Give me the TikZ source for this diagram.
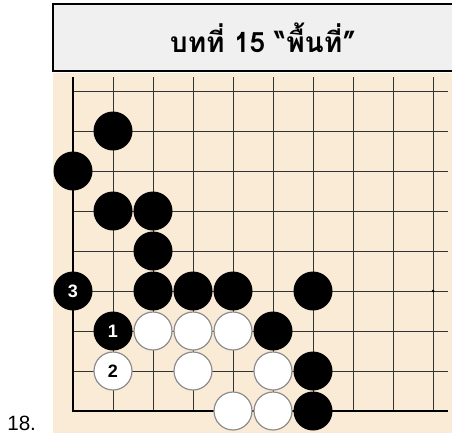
\documentclass[tikz,border=0pt]{standalone}
\usepackage{fontspec}
\setmainfont{Liberation Sans}
\newfontfamily\thaifont[Script=Thai]{Loma}
\definecolor{boardbg}{RGB}{250,235,215}
\definecolor{titlebg}{RGB}{240,240,240}

\begin{document}
\begin{tikzpicture}[
    x=0.75pt, y=-0.75pt,
    gridline/.style={line width=0.75pt, draw=black!80},
    edgeline/.style={line width=1.6pt, draw=black},
    bstone/.style={circle, fill=black, inner sep=0pt, minimum size=29.25pt, text=white, font=\bfseries\fontsize{13.5}{13.5}\selectfont},
    wstone/.style={circle, fill=white, draw=black!45, line width=0.9pt, inner sep=0pt, minimum size=28.5pt, text=black, font=\bfseries\fontsize{13.5}{13.5}\selectfont}
  ]
    \useasboundingbox (0,0) rectangle (452,439);
    % title bar
    \fill[titlebg] (53,4) rectangle (452,71);
    \draw[line width=1.5pt] (452,4) -| (53,71) -- (452,71);
    \node[font=\thaifont\bfseries\fontsize{21}{21}\selectfont] (title) at (263,38) {บทที่ 15 “พื้นที่”};
    % board
    \fill[boardbg] (53,73) rectangle (452,433);
    \foreach \c in {1,...,9}
      \draw[gridline] ({73+40*\c},77) -- ({73+40*\c},411);
    \foreach \r in {0,...,7}
      \draw[gridline] (73,{91+40*\r}) -- (448,{91+40*\r});
    \draw[edgeline] (73,77) -- (73,411) -- (448,411);
    \fill (433,291) circle (1.5);
    % stones
    \foreach \c/\r in {1/1, 0/2, 1/3, 2/3, 2/4, 2/5, 3/5, 4/5, 6/5, 5/6, 6/7, 6/8}
      \node[bstone] (b\c\r) at ({73+40*\c},{91+40*\r}) {};
    \foreach \c/\r in {2/6, 3/6, 4/6, 3/7, 5/7, 4/8, 5/8}
      \node[wstone] (w\c\r) at ({73+40*\c},{91+40*\r}) {};
    \node[bstone] (move1) at (113,331) {1};
    \node[wstone] (move2) at (113,371) {2};
    \node[bstone] (move3) at (73,291) {3};
    % problem number
    \node[anchor=base west, inner sep=0pt, font=\fontsize{15.5}{15.5}\selectfont] (num) at (7,430) {18.};
\end{tikzpicture}
\end{document}
